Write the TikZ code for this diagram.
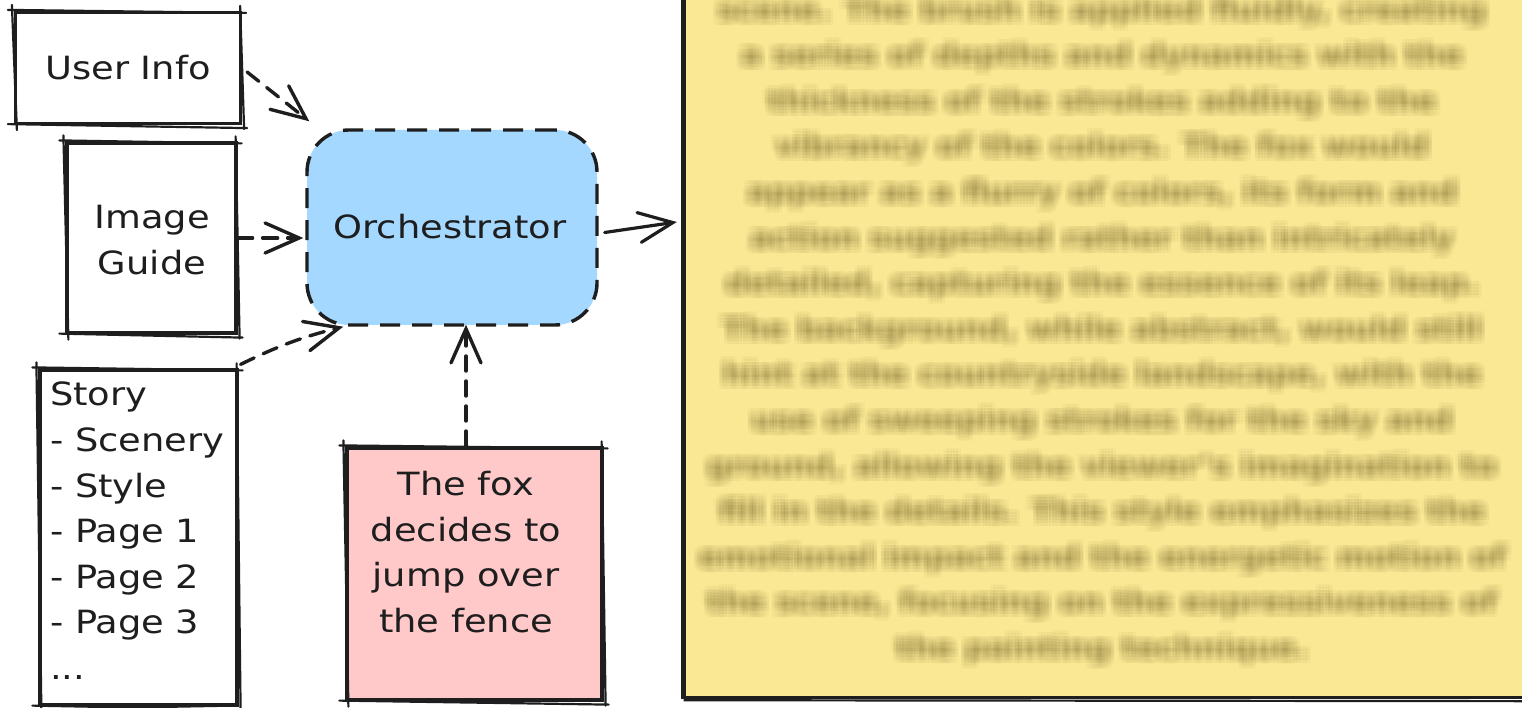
\documentclass[tikz,border=0pt]{standalone}
\usepackage{fontspec}
\setmainfont{DejaVu Sans}[FakeStretch=1.15]
\usetikzlibrary{arrows.meta,calc}
\definecolor{orchblue}{HTML}{A5D8FF}
\definecolor{foxred}{HTML}{FFC9C9}
\definecolor{noteyellow}{HTML}{FBE894}
\definecolor{ink}{HTML}{1E1E1E}
\definecolor{blurink}{HTML}{7A6A30}
\tikzset{
  lbl/.style={font=\fontsize{32}{45.6}\selectfont, text=ink, inner sep=0pt},
  box/.style={draw=ink, line width=3.2pt, inner sep=0pt, line cap=round},
  sk/.style={draw=ink, line width=2.2pt, line cap=round},
  dashline/.style={draw=ink, line width=3.4pt, dash pattern=on 15pt off 10pt, line cap=round},
  tipd/.style={-{Straight Barb[length=34pt,width=30pt,line cap=round]}},
}
\newcommand\roughrect[1]{%
  \draw[sk] ([shift={(-6,-1)}]#1.north west) -- ([shift={(4,2)}]#1.north east);
  \draw[sk] ([shift={(-2,-5)}]#1.north east) -- ([shift={(2,4)}]#1.south east);
  \draw[sk] ([shift={(5,3)}]#1.south east) -- ([shift={(-6,-1)}]#1.south west);
  \draw[sk] ([shift={(3,5)}]#1.south west) -- ([shift={(-2,-6)}]#1.north west);
}
\begin{document}
\begin{tikzpicture}[x=1pt,y=-1pt]
\useasboundingbox (0,0) rectangle (1522,708);
\clip (0,0) rectangle (1522,708);
\fill[white] (0,0) rectangle (1522,708);

% yellow note (blurred text)
\node[fill=noteyellow, minimum width=880pt, minimum height=720pt, inner sep=0pt] (yel) at (1123,337) {};
\foreach \dx in {-6,-3,0,3,6}{\foreach \dy in {-6,-3,0,3,6}{
  \node[lbl, text=blurink, text opacity=0.036, align=center, font=\fontsize{27}{45.6}\selectfont\bfseries] (blur\dx\dy) at ({1102+\dx},{331+\dy}) {%
scene. The brush is applied fluidly, creating\\
a series of depths and dynamics with the\\
thickness of the strokes adding to the\\
vibrancy of the colors. The fox would\\
appear as a flurry of colors, its form and\\
action suggested rather than intricately\\
detailed, capturing the essence of its leap.\\
The background, while abstract, would still\\
hint at the countryside landscape, with the\\
use of sweeping strokes for the sky and\\
ground, allowing the viewer's imagination to\\
fill in the details. This style emphasizes the\\
emotional impact and the energetic motion of\\
the scene, focusing on the expressiveness of\\
the painting technique.};
}}
\draw[ink, line width=3pt] (yel.north west) -- (yel.south west) -- (yel.south east);
\draw[sk] ([shift={(2,0)}]yel.north west) -- ([shift={(2,3)}]yel.south west) -- ([shift={(0,4)}]yel.south east);

% boxes
\node[box, minimum width=225pt, minimum height=111pt] (ui) at (128,68) {};
\node[lbl] (uit) at (128,68) {User Info};
\roughrect{ui}

\node[box, minimum width=169pt, minimum height=190pt] (ig) at (151.5,238) {};
\node[lbl, align=center] (igt) at (152,240) {Image\\Guide};
\roughrect{ig}

\node[box, minimum width=197pt, minimum height=335pt] (st) at (138.5,537.5) {};
\node[lbl, align=left, anchor=north west] (stt) at (50,382) {Story\\- Scenery\\- Style\\- Page 1\\- Page 2\\- Page 3\\...};
\roughrect{st}

\node[draw=ink, fill=orchblue, line width=3.4pt, dash pattern=on 20pt off 12pt, rounded corners=42pt,
      minimum width=290pt, minimum height=195pt] (orch) at (452,227.5) {};
\node[lbl] (orcht) at (450,227) {Orchestrator};

\node[box, fill=foxred, minimum width=255pt, minimum height=252pt] (fox) at (474.5,574) {};
\node[lbl, align=center] (foxt) at (466,552) {The fox\\decides to\\jump over\\the fence};
\roughrect{fox}

% connectors
\coordinate (foxtop) at (466,446);
\coordinate (yrow) at (0,222);
\draw[dashline, tipd] ([shift={(5,4)}]ui.east) -- ([shift={(4,-7)}]orch.north west);
\draw[dashline, tipd] (ig.east) -- ([xshift=-2]orch.west |- ig.east);
\draw[dashline, tipd] ([shift={(2,-4)}]st.north east) to[bend left=6] ([xshift=38]orch.south west);
\draw[dashline, tipd] (foxtop) -- ([yshift=2]orch.south -| foxtop);
\draw[ink, line width=3.2pt, line cap=round, tipd] ([shift={(6,5)}]orch.east) -- ([xshift=-6]yel.west |- yrow);
\end{tikzpicture}
\end{document}
